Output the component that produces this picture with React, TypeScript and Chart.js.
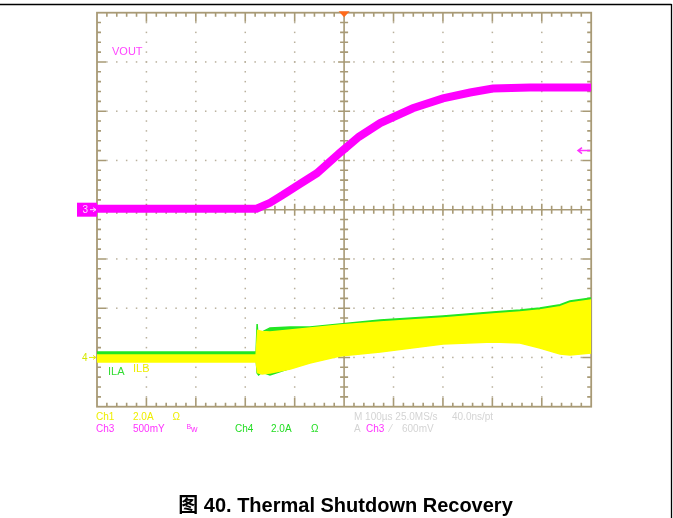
import React, { useEffect, useRef } from 'react';
import { Chart, registerables } from 'chart.js';

Chart.register(...registerables);

// Time axis: M 100 µs/div, trigger at centre
const timeVout = [-500, -400, -300, -177, -150, -124, -90, -55, -8, 30, 73, 139, 200, 255, 301, 376, 440, 500];
// VOUT (Ch3, 500 mV/div)
const vout = [0.01, 0.01, 0.01, 0.01, 0.07, 0.15, 0.26, 0.37, 0.58, 0.74, 0.88, 1.03, 1.13, 1.19, 1.23, 1.24, 1.24, 1.24];

// ILB (Ch1, 2.0 A/div) envelope
const timeIlb = [-500, -178, -175, -166, -150, -109, -69, -8, 73, 200, 301, 356, 396, 437, 457, 500];
const ilbUpper = [0.10, 0.10, 1.10, 1.05, 1.03, 1.11, 1.20, 1.32, 1.44, 1.60, 1.76, 1.85, 1.93, 2.06, 2.21, 2.33];
const ilbLower = [-0.18, -0.18, -0.62, -0.67, -0.63, -0.47, -0.23, 0.06, 0.22, 0.55, 0.63, 0.59, 0.38, 0.14, 0.10, 0.18];

// ILA (Ch4, 2.0 A/div) envelope
const timeIla = [-500, -178, -176, -173, -166, -150, -109, -69, -8, 73, 200, 301, 356, 396, 437, 457, 500];
const ilaUpper = [0.22, 0.22, 1.36, 0.51, 1.03, 1.20, 1.24, 1.24, 1.36, 1.52, 1.68, 1.85, 1.93, 2.01, 2.14, 2.29, 2.41];
const ilaLower = [-0.02, -0.02, -0.63, -0.71, -0.59, -0.71, -0.44, -0.20, 0.09, 0.25, 0.58, 0.66, 0.62, 0.41, 0.17, 0.13, 0.21];

const pts = (xs: number[], ys: number[]) => xs.map((x, i) => ({ x, y: ys[i] }));

const FONT = '"Liberation Sans", Arial, sans-serif';

const scopePlugin = {
  id: 'scope',
  beforeDatasetsDraw(chart: any) {
    const { ctx, chartArea: a } = chart;
    const dx = (a.right - a.left) / 10;
    const dy = (a.bottom - a.top) / 8;
    const cx = a.left + 5 * dx;
    const cy = a.top + 4 * dy;
    ctx.save();
    // dotted graticule
    ctx.fillStyle = '#b9b09c';
    for (let i = 1; i < 10; i++) {
      if (i === 5) continue;
      const x = a.left + i * dx;
      for (let j = 1; j < 40; j++) {
        const y = a.top + (j * dy) / 5;
        ctx.fillRect(x - 0.75, y - 0.75, 1.5, 1.5);
      }
    }
    for (let j = 1; j < 8; j++) {
      if (j === 4) continue;
      const y = a.top + j * dy;
      for (let k = 1; k < 50; k++) {
        const x = a.left + (k * dx) / 5;
        ctx.fillRect(x - 0.75, y - 0.75, 1.5, 1.5);
      }
    }
    ctx.strokeStyle = '#a89a76';
    ctx.lineWidth = 1.6;
    ctx.beginPath();
    // centre crosshair
    ctx.moveTo(cx, a.top);
    ctx.lineTo(cx, a.bottom);
    ctx.moveTo(a.left, cy);
    ctx.lineTo(a.right, cy);
    // edge ticks
    for (let k = 1; k < 50; k++) {
      const x = a.left + (k * dx) / 5;
      const len = k % 5 === 0 ? 9 : 4;
      ctx.moveTo(x, a.top);
      ctx.lineTo(x, a.top + len);
      ctx.moveTo(x, a.bottom);
      ctx.lineTo(x, a.bottom - len);
      const h = k % 5 === 0 ? 6 : 4;
      ctx.moveTo(x, cy - h);
      ctx.lineTo(x, cy + h);
    }
    for (let k = 1; k < 40; k++) {
      const y = a.top + (k * dy) / 5;
      const len = k % 5 === 0 ? 9 : 4;
      ctx.moveTo(a.left, y);
      ctx.lineTo(a.left + len, y);
      ctx.moveTo(a.right, y);
      ctx.lineTo(a.right - len, y);
      const h = k % 5 === 0 ? 6 : 4;
      ctx.moveTo(cx - h, y);
      ctx.lineTo(cx + h, y);
    }
    ctx.stroke();
    ctx.lineWidth = 1.8;
    ctx.strokeRect(a.left, a.top, a.right - a.left, a.bottom - a.top);
    ctx.restore();
  },
  afterDraw(chart: any) {
    const { ctx, chartArea: a } = chart;
    const dx = (a.right - a.left) / 10;
    const cx = a.left + 5 * dx;
    const yV = chart.scales.yV;
    const yA = chart.scales.yA;
    ctx.save();
    // page frame lines
    ctx.strokeStyle = '#000';
    ctx.lineWidth = 1.3;
    ctx.beginPath();
    ctx.moveTo(0, 4.5);
    ctx.lineTo(671.5, 4.5);
    ctx.moveTo(671.5, 4);
    ctx.lineTo(671.5, 518);
    ctx.stroke();

    // trigger position marker
    ctx.fillStyle = '#ff6a1a';
    ctx.beginPath();
    ctx.moveTo(cx - 5.5, a.top - 1.5);
    ctx.lineTo(cx + 5.5, a.top - 1.5);
    ctx.lineTo(cx, a.top + 4.5);
    ctx.closePath();
    ctx.fill();

    // Ch3 ground marker
    const g3 = yV.getPixelForValue(0);
    ctx.fillStyle = '#ff00ff';
    ctx.fillRect(77, g3 - 7, 20, 14);
    ctx.fillStyle = '#ffd8ff';
    ctx.strokeStyle = '#ffd8ff';
    ctx.font = `10px ${FONT}`;
    ctx.textBaseline = 'middle';
    ctx.textAlign = 'left';
    ctx.fillText('3', 82.5, g3 + 0.5);
    ctx.lineWidth = 1;
    ctx.beginPath();
    ctx.moveTo(90, g3);
    ctx.lineTo(96, g3);
    ctx.moveTo(93, g3 - 2);
    ctx.lineTo(96, g3);
    ctx.lineTo(93, g3 + 2);
    ctx.stroke();

    // Ch4 ground marker
    const g4 = yA.getPixelForValue(0);
    ctx.fillStyle = '#d4e800';
    ctx.strokeStyle = '#e6ee00';
    ctx.fillText('4', 82, g4 + 0.5);
    ctx.beginPath();
    ctx.moveTo(89, g4);
    ctx.lineTo(96, g4);
    ctx.moveTo(93, g4 - 2);
    ctx.lineTo(96, g4);
    ctx.lineTo(93, g4 + 2);
    ctx.stroke();

    // trigger level arrow (right)
    const tl = yV.getPixelForValue(0.6);
    ctx.strokeStyle = '#ff33ff';
    ctx.lineWidth = 1.5;
    ctx.beginPath();
    ctx.moveTo(590, tl);
    ctx.lineTo(578, tl);
    ctx.moveTo(582, tl - 3);
    ctx.lineTo(578, tl);
    ctx.lineTo(582, tl + 3);
    ctx.stroke();

    // trace labels
    ctx.font = `11px ${FONT}`;
    ctx.fillStyle = '#ff44ff';
    ctx.fillText('VOUT', 112, 52);
    ctx.fillStyle = '#33dd33';
    ctx.fillText('ILA', 108, 372);
    ctx.fillStyle = '#eeee00';
    ctx.fillText('ILB', 133, 369);

    // readouts
    ctx.font = `10px ${FONT}`;
    const r1 = 417.5;
    const r2 = 429.5;
    ctx.fillStyle = '#eeee00';
    ctx.fillText('Ch1', 96, r1);
    ctx.fillText('2.0A', 133, r1);
    ctx.fillText('Ω', 172.5, r1);
    ctx.fillStyle = '#ff33ff';
    ctx.fillText('Ch3', 96, r2);
    ctx.fillText('500mY', 133, r2);
    ctx.font = `7px ${FONT}`;
    ctx.fillText('B', 186.5, r2 - 2.5);
    ctx.font = `9px ${FONT}`;
    ctx.fillText('w', 191, r2 + 0.5);
    ctx.font = `10px ${FONT}`;
    ctx.fillStyle = '#22dd22';
    ctx.fillText('Ch4', 235, r2);
    ctx.fillText('2.0A', 271, r2);
    ctx.fillText('Ω', 311, r2);
    ctx.fillStyle = '#d4d4d4';
    ctx.fillText('M 100µs 25.0MS/s', 354, r1);
    ctx.fillText('40.0ns/pt', 452, r1);
    ctx.fillText('A', 354, r2);
    ctx.fillText('⁄', 390, r2);
    ctx.fillText('600mV', 402, r2);
    ctx.fillStyle = '#ff33ff';
    ctx.fillText('Ch3', 366, r2);

    // caption
    ctx.fillStyle = '#000';
    ctx.textAlign = 'center';
    ctx.textBaseline = 'alphabetic';
    ctx.font = `bold 20px ${FONT}, "Noto Sans CJK SC", sans-serif`;
    ctx.fillText('图 40. Thermal Shutdown Recovery', 345.5, 512);
    ctx.restore();
  },
};

export default function App() {
  const ref = useRef<HTMLCanvasElement | null>(null);
  useEffect(() => {
    if (!ref.current) return;
    const chart = new Chart(ref.current, {
      type: 'line',
      data: {
        datasets: [
          {
            label: 'VOUT',
            data: pts(timeVout, vout),
            yAxisID: 'yV',
            borderColor: '#ff00ff',
            borderWidth: 8,
            fill: false,
          },
          {
            label: 'ILB max',
            data: pts(timeIlb, ilbUpper),
            yAxisID: 'yA',
            borderColor: '#ffff00',
            backgroundColor: '#ffff00',
            borderWidth: 1.5,
            fill: '+1',
          },
          {
            label: 'ILB min',
            data: pts(timeIlb, ilbLower),
            yAxisID: 'yA',
            borderColor: '#ffff00',
            borderWidth: 1.5,
            fill: false,
          },
          {
            label: 'ILA max',
            data: pts(timeIla, ilaUpper),
            yAxisID: 'yA',
            borderColor: '#22e622',
            backgroundColor: '#22e622',
            borderWidth: 1.5,
            fill: '+1',
          },
          {
            label: 'ILA min',
            data: pts(timeIla, ilaLower),
            yAxisID: 'yA',
            borderColor: '#22e622',
            borderWidth: 1.5,
            fill: false,
          },
        ],
      },
      options: {
        animation: false,
        responsive: false,
        events: [],
        layout: { padding: { left: 97, top: 12.7, right: 81.8, bottom: 111.3 } },
        plugins: { legend: { display: false }, tooltip: { enabled: false } },
        elements: { point: { radius: 0 }, line: { tension: 0 } },
        scales: {
          x: { type: 'linear', min: -500, max: 500, display: false },
          yV: { type: 'linear', axis: 'y', min: -2, max: 2, display: false },
          yA: { type: 'linear', axis: 'y', min: -2, max: 14, display: false },
        },
      },
      plugins: [scopePlugin],
    } as any);
    return () => chart.destroy();
  }, []);
  return (
    <div style={{ position: 'absolute', left: 0, top: 0, width: 673, height: 518, background: '#fff' }}>
      <canvas ref={ref} width={673} height={518} style={{ display: 'block' }} />
    </div>
  );
}
